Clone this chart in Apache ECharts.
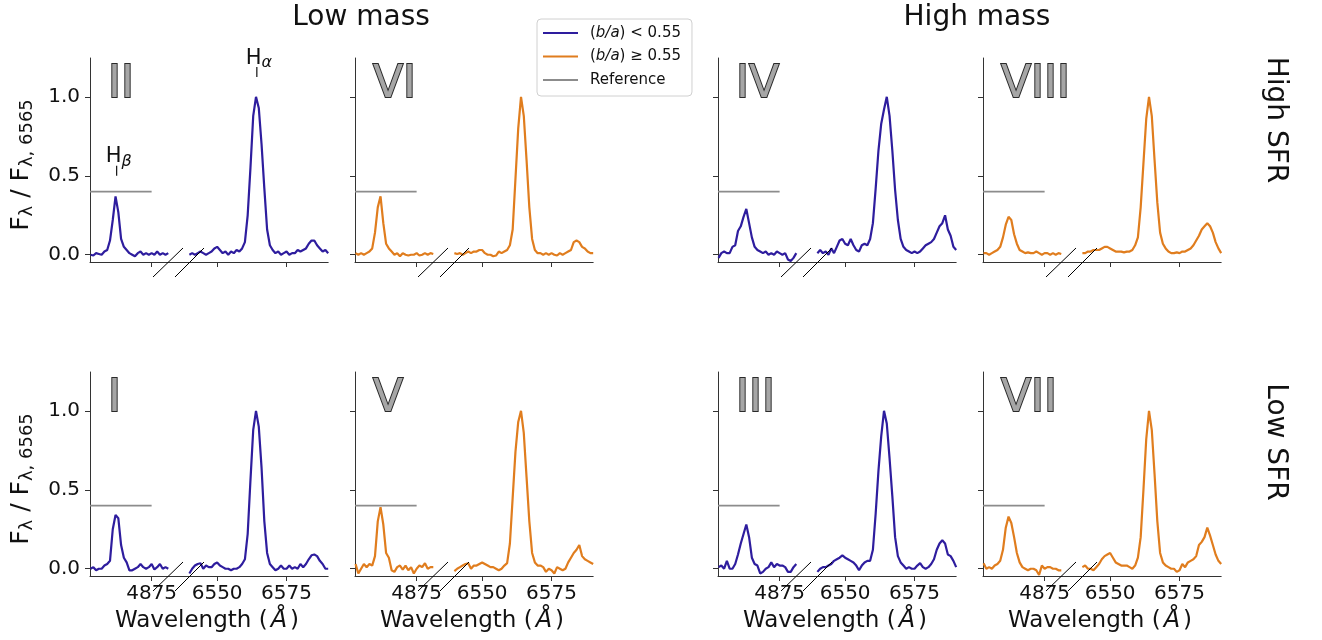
<!DOCTYPE html>
<html><head><meta charset="utf-8">
<script src="https://cdn.jsdelivr.net/npm/echarts@6/dist/echarts.min.js"></script>
<style>html,body{margin:0;padding:0;background:#fff}#c{width:1322px;height:640px}</style>
</head><body><div id="c"></div>
<script>
// ---------------- data ----------------
const hbWave = [4853,4854,4855,4856,4857,4858,4859,4860,4861,4862,4863,4864,4865,4866,4867,4868,4869,4870,4871,4872,4873,4874,4875,4876,4877,4878,4879,4880,4881];
const haWave = [6540,6541,6542,6543,6544,6545,6546,6547,6548,6549,6550,6551,6552,6553,6554,6555,6556,6557,6558,6559,6560,6561,6562,6563,6564,6565,6566,6567,6568,6569,6570,6571,6572,6573,6574,6575,6576,6577,6578,6579,6580,6581,6582,6583,6584,6585,6586,6587,6588,6589,6590];

// Panel II (low mass, high SFR, b/a < 0.55)
const hbII = [0.0,-0.005,0.01,0.005,0.0,0.02,0.03,0.09,0.22,0.37, 0.27,0.1,0.05,0.03,0.01,0.0,-0.01,0.01,0.02,0.0, 0.01,0.0,0.01,0.0,0.02,0.0,0.01,0.0,0.01];
const haII = [0.0,0.01,0.0,0.01,0.02,0.01,0.0,0.01,0.02,0.04, 0.05,0.03,0.01,0.02,0.0,0.02,0.01,0.03,0.02,0.04, 0.08,0.25,0.55,0.88,1.0,0.93,0.7,0.42,0.16,0.06, 0.03,0.01,0.02,0.0,0.01,0.02,0.0,0.01,0.01,0.03, 0.02,0.03,0.04,0.07,0.09,0.09,0.06,0.04,0.02,0.03, 0.01];
// Panel VI (low mass, high SFR, b/a >= 0.55)
const hbVI = [0.01,0.0,0.01,0.0,0.01,0.02,0.04,0.14,0.3,0.37, 0.2,0.07,0.04,0.02,0.0,0.01,-0.01,0.01,0.0,-0.005, 0.0,0.0,0.01,-0.005,0.0,0.01,0.0,0.01,0.005];
const haVI = [0.01,0.005,0.01,0.0,0.01,0.02,0.01,0.02,0.02,0.03, 0.03,0.01,0.0,0.0,-0.01,-0.005,0.02,0.01,0.02,0.03, 0.06,0.16,0.48,0.8,1.0,0.88,0.6,0.3,0.1,0.03, 0.01,0.01,0.0,0.01,0.0,0.01,0.0,-0.005,0.01,0.0, 0.01,0.02,0.03,0.08,0.09,0.08,0.05,0.04,0.02,0.01, 0.01];
// Panel IV (high mass, high SFR, b/a < 0.55)
const hbIV = [-0.02,0.01,0.02,0.01,0.01,0.05,0.06,0.15,0.18,0.24, 0.29,0.2,0.11,0.05,0.03,0.02,0.01,0.02,0.0,0.01, 0.0,0.02,0.01,0.0,0.01,-0.03,-0.04,-0.02,0.01];
const haIV = [0.01,0.03,0.01,0.02,0.0,0.04,0.01,0.05,0.09,0.1, 0.07,0.06,0.1,0.06,0.03,0.02,0.06,0.07,0.06,0.1, 0.2,0.42,0.66,0.83,0.92,1.0,0.88,0.66,0.41,0.22, 0.1,0.05,0.03,0.02,0.01,0.02,0.01,0.02,0.04,0.06, 0.07,0.08,0.1,0.14,0.18,0.2,0.25,0.16,0.12,0.05, 0.03];
// Panel VIII (high mass, high SFR, b/a >= 0.55)
const hbVIII = [0.01,0.01,0.0,0.01,0.02,0.03,0.05,0.11,0.19,0.24, 0.22,0.13,0.07,0.03,0.02,0.01,0.015,0.01,0.01,0.02, 0.01,0.0,0.01,0.01,0.0,0.01,0.0,0.01,0.005];
const haVIII = [0.01,0.01,0.02,0.02,0.03,0.03,0.03,0.04,0.05,0.05, 0.04,0.03,0.02,0.02,0.02,0.015,0.02,0.02,0.03,0.06, 0.11,0.3,0.58,0.86,1.0,0.88,0.6,0.33,0.14,0.07, 0.04,0.02,0.01,0.01,0.015,0.01,0.02,0.02,0.03,0.04, 0.06,0.09,0.12,0.16,0.18,0.2,0.18,0.14,0.08,0.04, 0.01];
// Panel I (low mass, low SFR, b/a < 0.55)
const hbI = [0.0,0.01,-0.01,0.0,0.0,0.02,0.03,0.05,0.25,0.34, 0.32,0.15,0.07,0.04,-0.01,-0.01,0.0,0.01,0.03,0.01, 0.0,0.01,0.03,-0.005,0.01,0.03,0.0,0.01,0.0];
const haI = [-0.03,0.0,0.02,0.03,0.035,0.0,0.02,0.01,0.01,0.03, 0.04,0.02,0.01,0.0,0.0,-0.01,0.0,0.0,0.01,0.03, 0.06,0.22,0.56,0.88,1.0,0.9,0.64,0.3,0.1,0.03, 0.01,-0.01,0.0,0.02,0.0,0.0,0.02,0.0,0.01,0.0, 0.03,0.01,0.03,0.06,0.085,0.09,0.08,0.05,0.03,0.0, 0.0];
// Panel V (low mass, low SFR, b/a >= 0.55)
const hbV = [0.03,-0.03,0.0,0.03,0.01,0.03,0.02,0.08,0.3,0.39, 0.28,0.1,0.07,-0.01,-0.02,0.01,0.02,-0.005,0.02,-0.01, 0.01,-0.03,0.0,0.02,0.01,0.035,0.0,0.01,0.01];
const haV = [-0.015,0.0,0.01,0.02,0.03,0.035,0.0,0.02,0.02,0.03, 0.04,0.03,0.02,0.01,0.01,0.0,-0.01,0.0,0.02,0.035, 0.16,0.45,0.74,0.93,1.0,0.86,0.58,0.3,0.1,0.04, 0.02,0.02,0.01,-0.02,0.0,-0.01,-0.03,0.01,0.0,-0.01, 0.0,0.04,0.07,0.1,0.12,0.15,0.08,0.06,0.05,0.04, 0.03];
// Panel III (high mass, low SFR, b/a < 0.55)
const hbIII = [0.01,0.02,0.0,0.05,0.0,0.0,0.03,0.09,0.16,0.22, 0.28,0.2,0.07,0.03,0.02,-0.03,-0.02,0.0,0.01,0.04, 0.01,0.03,0.02,0.02,0.01,-0.02,-0.02,0.01,0.03];
const haIII = [-0.02,0.0,0.01,0.01,0.02,0.03,0.05,0.06,0.07,0.085, 0.07,0.06,0.05,0.04,0.02,-0.01,0.02,0.04,0.05,0.05, 0.12,0.35,0.62,0.84,1.0,0.92,0.7,0.46,0.2,0.08, 0.04,0.02,0.0,0.01,0.0,0.0,0.02,0.035,0.01,0.0, 0.01,0.03,0.06,0.12,0.16,0.18,0.16,0.09,0.08,0.05, 0.01];
// Panel VII (high mass, low SFR, b/a >= 0.55)
const hbVII = [0.035,0.0,0.01,0.0,0.02,0.03,0.05,0.12,0.26,0.33, 0.29,0.2,0.1,0.04,0.01,0.0,-0.01,0.0,0.0,-0.01, -0.04,0.02,0.0,0.01,0.01,0.0,0.0,-0.01,-0.01];
const haVII = [0.01,0.02,0.0,0.0,-0.01,0.01,0.03,0.06,0.08,0.09, 0.1,0.07,0.04,0.03,0.02,0.02,0.02,0.01,0.0,0.02, 0.07,0.2,0.5,0.82,1.0,0.88,0.6,0.3,0.1,0.04, 0.02,0.01,0.0,0.0,-0.02,-0.01,0.03,0.01,0.04,0.05, 0.06,0.08,0.15,0.17,0.2,0.26,0.21,0.15,0.09,0.05, 0.03];

const panelLabels = ['II','VI','IV','VIII','I','V','III','VII'];
const columnTitles = ['Low mass','High mass'];
const rowTitles = ['High SFR','Low SFR'];
const seriesNames = ['(b/a) < 0.55','(b/a) \u2265 0.55','Reference'];
const hbTicks = [4875];
const haTicks = [6550, 6575];
const yTicks = [0, 0.5, 1.0];
const refLevel = 0.4;
const refEnd = 4875;
const lineMarks = [{sub:'\u03b2', wave:4862.4, y:0.5, axis:'hb'}, {sub:'\u03b1', wave:6564.3, y:1.125, axis:'ha'}];

// ---------------- style / layout ----------------
const FONT = '"DejaVu Sans", sans-serif';
const BLUE = '#2e1d9e', ORANGE = '#e07d1e', GREY = '#8c8c8c', AX = '#333333';
const HB_MIN = 4852.8, HB_MAX = 4884.6, HA_MIN = 6536, HA_MAX = 6590;
const Y_MIN = -0.046, Y_MAX = 1.246;
const colLefts = [90, 355, 718, 983];
const rowTops = [58, 372];
const gridH = 204;
const pxPerA = 2.776;
const hbW = (HB_MAX - HB_MIN) * pxPerA;
const haW = (HA_MAX - HA_MIN) * pxPerA;

const panels = [
  {row:0, col:0, hb:hbII,  ha:haII,  c:BLUE,   n:0},
  {row:0, col:1, hb:hbVI,  ha:haVI,  c:ORANGE, n:1},
  {row:0, col:2, hb:hbIV,  ha:haIV,  c:BLUE,   n:0},
  {row:0, col:3, hb:hbVIII,ha:haVIII,c:ORANGE, n:1},
  {row:1, col:0, hb:hbI,   ha:haI,   c:BLUE,   n:0},
  {row:1, col:1, hb:hbV,   ha:haV,   c:ORANGE, n:1},
  {row:1, col:2, hb:hbIII, ha:haIII, c:BLUE,   n:0},
  {row:1, col:3, hb:hbVII, ha:haVII, c:ORANGE, n:1}
];

const grids = [], xAxes = [], yAxes = [], series = [];
const tickStyle = {show:true, length:5, inside:false, lineStyle:{color:AX, width:1}};
const lineAx = {show:true, onZero:false, lineStyle:{color:AX, width:1}};
panels.forEach((p, i) => {
  const left = colLefts[p.col], top = rowTops[p.row];
  grids.push({left:left, top:top, width:hbW, height:gridH});
  grids.push({left:left + hbW, top:top, width:haW, height:gridH});
  const showX = p.row === 1;
  const xl = vals => ({show:showX, customValues:vals, formatter:v => String(Math.round(v)), fontSize:20, fontFamily:FONT, color:'#111', margin:8});
  xAxes.push({gridIndex:2*i, type:'value', min:HB_MIN, max:HB_MAX, axisLine:lineAx,
    axisTick:Object.assign({customValues:hbTicks}, tickStyle), axisLabel:xl(hbTicks), splitLine:{show:false}});
  xAxes.push({gridIndex:2*i+1, type:'value', min:HA_MIN, max:HA_MAX, axisLine:lineAx,
    axisTick:Object.assign({customValues:haTicks}, tickStyle), axisLabel:xl(haTicks), splitLine:{show:false}});
  yAxes.push({gridIndex:2*i, type:'value', min:Y_MIN, max:Y_MAX, axisLine:lineAx,
    axisTick:Object.assign({customValues:yTicks}, tickStyle),
    axisLabel:{show:p.col === 0, customValues:yTicks, formatter:v => v.toFixed(1), fontSize:20, fontFamily:FONT, color:'#111', margin:10},
    splitLine:{show:false}});
  yAxes.push({gridIndex:2*i+1, type:'value', min:Y_MIN, max:Y_MAX, show:false, splitLine:{show:false}});
  const ls = {color:p.c, width:2.2};
  series.push({type:'line', name:seriesNames[p.n], xAxisIndex:2*i, yAxisIndex:2*i, showSymbol:false, symbol:'none',
    color:p.c, lineStyle:ls, data:hbWave.map((w,k)=>[w, p.hb[k]]), z:3});
  series.push({type:'line', name:seriesNames[p.n], xAxisIndex:2*i+1, yAxisIndex:2*i+1, showSymbol:false, symbol:'none',
    color:p.c, lineStyle:ls, data:haWave.map((w,k)=>[w, p.ha[k]]), z:3});
  series.push({type:'line', name:seriesNames[2], xAxisIndex:2*i, yAxisIndex:2*i, showSymbol:false, symbol:'none',
    color:GREY, lineStyle:{color:GREY, width:1.6}, data:[[HB_MIN, refLevel],[refEnd, refLevel]], z:2});
});

const option = {
  animation:false,
  backgroundColor:'#fff',
  textStyle:{fontFamily:FONT},
  grid:grids, xAxis:xAxes, yAxis:yAxes, series:series,
  legend:{
    orient:'vertical', left:537, top:19, data:seriesNames,
    icon:'rect', itemWidth:35, itemHeight:2, itemGap:7.5,
    padding:[6,11,8,6], backgroundColor:'#fff', borderColor:'#d0d0d0', borderWidth:1, borderRadius:4,
    textStyle:{fontSize:15, fontFamily:FONT, color:'#111', lineHeight:16, padding:[0,0,0,7],
      rich:{i:{fontStyle:'italic', fontSize:15, fontFamily:FONT, color:'#111'}}},
    formatter: name => name.replace('(b/a)', '({i|b/a})')
  }
};

const chart = echarts.init(document.getElementById('c'), null, {renderer:'canvas'});
chart.setOption(option);

// ---------------- annotations ----------------
const gr = [];
panels.forEach((p, i) => {
  const left = colLefts[p.col], bottom = rowTops[p.row] + gridH;
  const y1 = chart.convertToPixel({yAxisIndex:2*i}, 1.0);
  gr.push({type:'text', x:left + 18, y:y1 - 11.5, z:10,
    style:{text:panelLabels[i], font:'44px ' + FONT, fill:'#a6a6a6', stroke:'#2a2a2a', lineWidth:2, align:'left', verticalAlign:'middle'}});
  gr.push({type:'line', z:10, shape:{x1:left+63, y1:bottom+15, x2:left+93, y2:bottom-14}, style:{stroke:'#000', lineWidth:1}});
  gr.push({type:'line', z:10, shape:{x1:left+85, y1:bottom+15, x2:left+114, y2:bottom-14}, style:{stroke:'#000', lineWidth:1}});
  if (p.row === 1) {
    gr.push({type:'text', x:left + 117, y:621, z:10,
      style:{text:'Wavelength ({a|\u00c5})', font:'23px ' + FONT, fill:'#111', align:'center', verticalAlign:'middle',
        rich:{a:{fontStyle:'italic', fontSize:24, fontFamily:FONT, padding:[0,3,0,3], fill:'#111'}}}});
  }
});
// line-identification marks (panel II)
lineMarks.forEach(m => {
  const xi = m.axis === 'hb' ? 0 : 1;
  const pt = chart.convertToPixel({xAxisIndex:xi, yAxisIndex:xi}, [m.wave, m.y]);
  const yTop = pt[1] - 10;
  gr.push({type:'line', z:10, shape:{x1:pt[0], y1:pt[1], x2:pt[0], y2:yTop}, style:{stroke:'#111', lineWidth:1.2}});
  gr.push({type:'text', x:pt[0] + 2, y:yTop + 4, z:10,
    style:{text:'{h|H}{s|' + m.sub + '}', align:'center', verticalAlign:'bottom',
      rich:{h:{fontSize:21, fontFamily:FONT, fill:'#111', lineHeight:26, verticalAlign:'middle'},
            s:{fontSize:16, fontStyle:'italic', fontFamily:FONT, fill:'#111', lineHeight:18, verticalAlign:'bottom'}}}});
});
// y-axis labels
rowTops.forEach(t => {
  gr.push({type:'text', x:21, y:t + gridH/2 + 5, rotation:Math.PI/2, z:10,
    style:{text:'{m|F}{s|\u03bb}{m| / F}{s|\u03bb, 6565}', align:'center', verticalAlign:'middle',
      rich:{m:{fontSize:25, fontFamily:FONT, fill:'#111', lineHeight:30, verticalAlign:'middle'},
            s:{fontSize:18, fontFamily:FONT, fill:'#111', lineHeight:18, verticalAlign:'bottom'}}}});
});
// column titles
[[361, columnTitles[0]], [977, columnTitles[1]]].forEach(([x, t]) => {
  gr.push({type:'text', x:x, y:18, z:10, style:{text:t, font:'28px ' + FONT, fill:'#111', align:'center', verticalAlign:'middle'}});
});
// row titles
[[120, rowTitles[0]], [442, rowTitles[1]]].forEach(([y, t]) => {
  gr.push({type:'text', x:1275, y:y, rotation:-Math.PI/2, z:10, style:{text:t, font:'28px ' + FONT, fill:'#111', align:'center', verticalAlign:'middle'}});
});
chart.setOption({graphic:gr});
</script></body></html>
